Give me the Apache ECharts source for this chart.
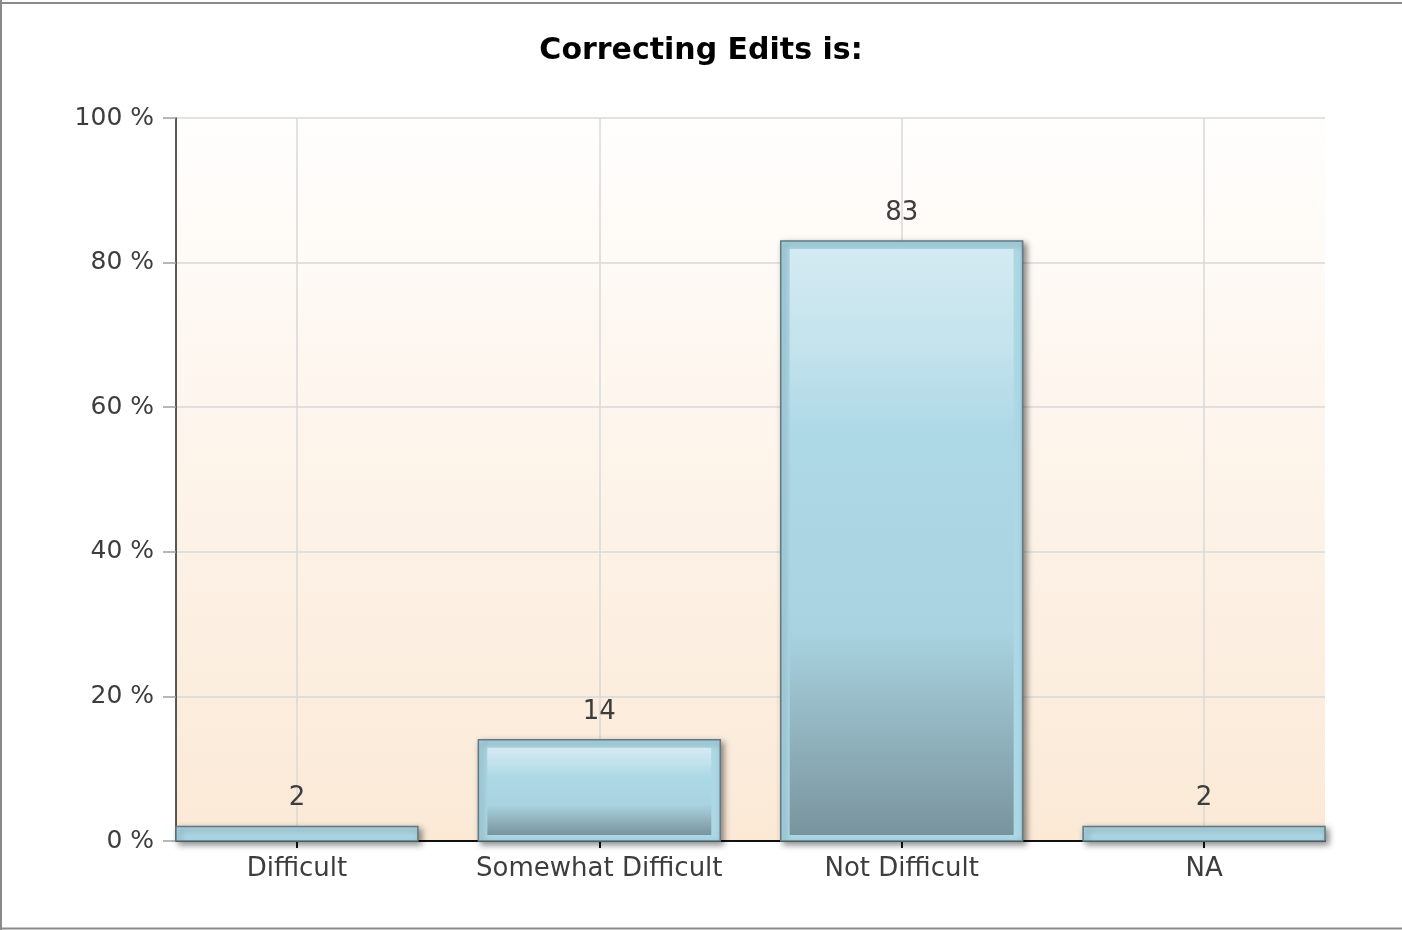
<!DOCTYPE html>
<html>
<head>
<meta charset="utf-8">
<script src="https://cdn.jsdelivr.net/npm/echarts@6/dist/echarts.min.js"></script>
<style>
  html, body { margin: 0; padding: 0; background: #fff; }
  #main { width: 1402px; height: 930px; }
</style>
</head>
<body>
<div id="main"></div>
<script>
var categories = ['Difficult', 'Somewhat Difficult', 'Not Difficult', 'NA'];
var values = [2, 14, 83, 2];
var yTicks = [0, 20, 40, 60, 80, 100];

var chart = echarts.init(document.getElementById('main'));
var font = 'DejaVu Sans';

// bars drawn by hand so we get the double border + inner gradient
function renderBar(params, api) {
  var i = api.value(0);
  var v = api.value(1);
  var top = api.coord([i, v]);
  var base = api.coord([i, 0]);
  var w = api.size([0.8, 0])[0];
  var h = base[1] - top[1];
  var x0 = top[0] - w / 2;
  var children = [{
    type: 'rect',
    shape: { x: x0, y: top[1], width: w, height: h },
    style: {
      fill: '#acd7e5', stroke: '#5f7a84', lineWidth: 1.5,
      shadowColor: 'rgba(0,0,0,0.45)', shadowBlur: 6, shadowOffsetX: 3, shadowOffsetY: 3
    }
  }];
  if (h > 22) {
    children.push({
      type: 'rect',
      shape: { x: x0 + 9, y: top[1] + 8, width: w - 18, height: h - 14 },
      style: {
        fill: new echarts.graphic.LinearGradient(0, 0, 0, 1, [
          { offset: 0, color: '#d4eaf2' },
          { offset: 0.18, color: '#c2e2ec' },
          { offset: 0.32, color: '#add8e6' },
          { offset: 0.65, color: '#a9d3e0' },
          { offset: 1, color: '#79949e' }
        ])
      }
    });
  }
  children.push({
    type: 'text',
    style: {
      text: String(v), x: top[0], y: top[1] - 28,
      align: 'center', verticalAlign: 'middle',
      font: '26px "' + font + '"', fill: '#3d3d3d'
    }
  });
  return { type: 'group', children: children };
}

var option = {
  animation: false,
  backgroundColor: '#fff',
  title: {
    text: 'Correcting Edits is:',
    left: 'center',
    top: 31,
    textStyle: { fontFamily: font, fontWeight: 'bold', fontSize: 30, color: '#000' }
  },
  grid: {
    left: 176, right: 77, top: 118, bottom: 89,
    show: true, borderWidth: 0,
    backgroundColor: new echarts.graphic.LinearGradient(0, 0, 0, 1, [
      { offset: 0, color: '#fffefd' },
      { offset: 1, color: '#fbe9d6' }
    ])
  },
  xAxis: {
    type: 'value',
    min: -0.4,
    max: 3.4,
    axisLine: { show: true, onZero: false, lineStyle: { color: '#111', width: 2 } },
    axisTick: { show: true, length: 7, customValues: [0, 1, 2, 3], lineStyle: { color: '#111', width: 2 } },
    axisLabel: {
      customValues: [0, 1, 2, 3],
      margin: 15,
      fontFamily: font, fontSize: 26, color: '#3d3d3d',
      formatter: function (v) { return categories[Math.round(v)]; }
    },
    splitLine: { show: true, lineStyle: { color: '#d8d8d8', width: 1.5 } }
  },
  yAxis: {
    type: 'value',
    min: 0,
    max: 100,
    interval: 20,
    axisLine: { show: true, onZero: false, lineStyle: { color: '#222', width: 1.5 } },
    axisTick: { show: true, length: 13, lineStyle: { color: '#a0a0a0', width: 1.5 } },
    axisLabel: {
      margin: 22,
      fontFamily: font, fontSize: 25, color: '#3d3d3d',
      formatter: function (v) { return yTicks.indexOf(v) >= 0 ? v + ' %' : ''; }
    },
    splitLine: { show: true, lineStyle: { color: '#d8d8d8', width: 1.5 } }
  },
  graphic: [
    { type: 'line', shape: { x1: 0, y1: 3, x2: 1402, y2: 3 }, style: { stroke: '#8a8a8a', lineWidth: 2 } },
    { type: 'line', shape: { x1: 1, y1: 0, x2: 1, y2: 930 }, style: { stroke: '#8a8a8a', lineWidth: 2 } },
    { type: 'line', shape: { x1: 0, y1: 928.5, x2: 1402, y2: 928.5 }, style: { stroke: '#8a8a8a', lineWidth: 2 } }
  ],
  series: [{
    type: 'custom',
    renderItem: renderBar,
    data: values.map(function (v, i) { return [i, v]; }),
    encode: { x: 0, y: 1 },
    z: 3
  }]
};

chart.setOption(option);
</script>
</body>
</html>
